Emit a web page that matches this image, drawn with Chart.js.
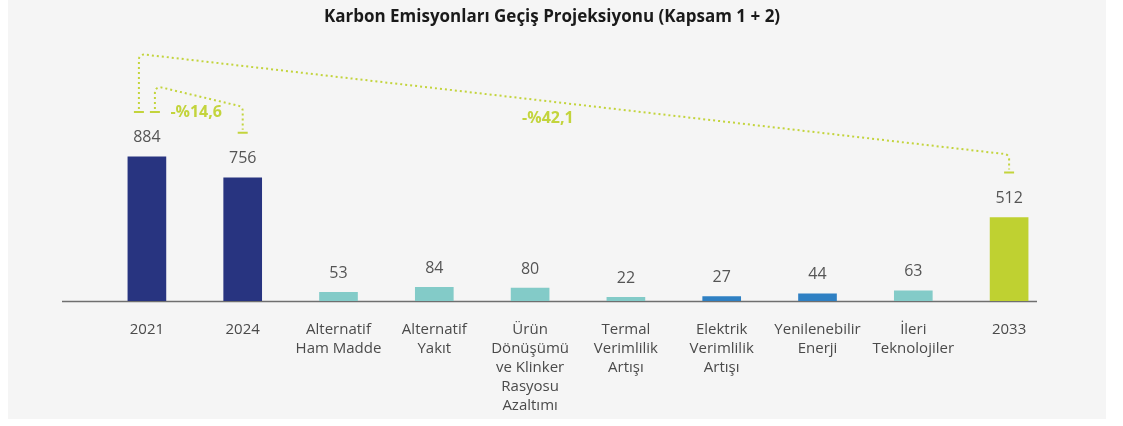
<!DOCTYPE html>
<html>
<head>
<meta charset="utf-8">
<script src="https://cdn.jsdelivr.net/npm/chart.js@4"></script>
<style>
  html, body { margin: 0; padding: 0; background: #fff; }
  #wrap { width: 1123px; height: 426px; }
</style>
</head>
<body>
<div id="wrap"><canvas id="chart" width="1123" height="426"></canvas></div>
<script>
const categories = [
    ['2021'],
    ['2024'],
    ['Alternatif', 'Ham Madde'],
    ['Alternatif', 'Yakıt'],
    ['Ürün', 'Dönüşümü', 've Klinker', 'Rasyosu', 'Azaltımı'],
    ['Termal', 'Verimlilik', 'Artışı'],
    ['Elektrik', 'Verimlilik', 'Artışı'],
    ['Yenilenebilir', 'Enerji'],
    ['İleri', 'Teknolojiler'],
    ['2033']
];
const emissions = [884, 756, 53, 84, 80, 22, 27, 44, 63, 512];
const barColors = ['#283480', '#283480', '#83cbc8', '#83cbc8', '#83cbc8', '#83cbc8', '#2f80c3', '#2f80c3', '#83cbc8', '#bfd131'];

// reduction brackets: from bar -> to bar
const reductionFrom = [0, 0];
const reductionTo = [1, 9];
const reductionLabels = ['-%14,6', '-%42,1'];

const chartTitle = 'Karbon Emisyonları Geçiş Projeksiyonu (Kapsam 1 + 2)';

const LIME = '#c3d43c';
const bracketStyle = [
    { side: 8, rise: 26, drop: 26 },
    { side: -8, rise: 58, drop: 18 }
];

const backgroundPlugin = {
    id: 'panel',
    beforeDraw(chart) {
        const ctx = chart.ctx;
        ctx.save();
        ctx.fillStyle = '#ffffff';
        ctx.fillRect(0, 0, chart.width, chart.height);
        ctx.fillStyle = '#f5f5f5';
        ctx.fillRect(8, 0, 1098, 419);
        ctx.fillStyle = '#1a1a1a';
        ctx.font = 'bold 17px "Open Sans"';
        ctx.textAlign = 'center';
        ctx.textBaseline = 'middle';
        ctx.fillText(chartTitle, 552, 17);
        ctx.restore();
    }
};

const baselinePlugin = {
    id: 'baseline',
    beforeDatasetsDraw(chart) {
        const ctx = chart.ctx;
        const area = chart.chartArea;
        ctx.save();
        ctx.strokeStyle = '#6f6f6f';
        ctx.lineWidth = 1.5;
        ctx.beginPath();
        ctx.moveTo(area.left - 37, area.bottom + 0.5);
        ctx.lineTo(area.right - 20, area.bottom + 0.5);
        ctx.stroke();
        ctx.restore();
    }
};

function drawBracket(ctx, xs, ys, xe, ye, peakY, cornerY) {
    ctx.setLineDash([]);
    ctx.lineWidth = 2;
    ctx.beginPath();
    ctx.moveTo(xs - 5, ys);
    ctx.lineTo(xs + 5, ys);
    ctx.moveTo(xe - 5, ye);
    ctx.lineTo(xe + 5, ye);
    ctx.stroke();

    ctx.setLineDash([2, 3]);
    ctx.beginPath();
    ctx.moveTo(xs, ys - 3);
    ctx.arcTo(xs, peakY, xe, cornerY, 5);
    ctx.arcTo(xe, cornerY, xe, ye, 5);
    ctx.lineTo(xe, ye - 3);
    ctx.stroke();
}

const labelsPlugin = {
    id: 'labels',
    afterDatasetsDraw(chart) {
        const ctx = chart.ctx;
        const bars = chart.getDatasetMeta(0).data;
        ctx.save();
        ctx.font = '16px "Open Sans"';
        ctx.fillStyle = '#555555';
        ctx.textAlign = 'center';
        ctx.textBaseline = 'middle';
        bars.forEach((bar, i) => {
            ctx.fillText(String(emissions[i]), bar.x, bar.y - 19);
        });

        ctx.strokeStyle = LIME;
        reductionFrom.forEach((from, k) => {
            const st = bracketStyle[k];
            const a = bars[from];
            const b = bars[reductionTo[k]];
            const xs = a.x + st.side;
            const ys = a.y - 45;
            const xe = b.x;
            const ye = b.y - 45;
            const peakY = ys - st.rise;
            const cornerY = ye - st.drop;
            drawBracket(ctx, xs, ys, xe, ye, peakY, cornerY);

            const t = 0.47;
            const lx = xs + (xe - xs) * t;
            const ly = peakY + (cornerY - peakY) * t + 17;
            ctx.fillStyle = LIME;
            ctx.font = 'bold 16px "Open Sans"';
            ctx.fillText(reductionLabels[k], lx, ly);
        });
        ctx.restore();
    }
};

new Chart(document.getElementById('chart'), {
    type: 'bar',
    data: {
        labels: categories,
        datasets: [{
            data: emissions,
            backgroundColor: barColors,
            borderWidth: 0,
            barThickness: 38
        }]
    },
    options: {
        responsive: false,
        animation: false,
        layout: { padding: { left: 99, right: 66, top: 138, bottom: 0 } },
        plugins: {
            legend: { display: false },
            tooltip: { enabled: false }
        },
        scales: {
            x: {
                grid: { display: false },
                border: { display: false },
                afterFit(axis) { axis.height = 125; },
                ticks: {
                    color: '#4a4a4a',
                    font: { family: 'Open Sans', size: 15, lineHeight: 1.27 },
                    padding: 11,
                    maxRotation: 0,
                    autoSkip: false
                }
            },
            y: {
                display: false,
                min: 0,
                max: 1000
            }
        }
    },
    plugins: [backgroundPlugin, baselinePlugin, labelsPlugin]
});
</script>
</body>
</html>
